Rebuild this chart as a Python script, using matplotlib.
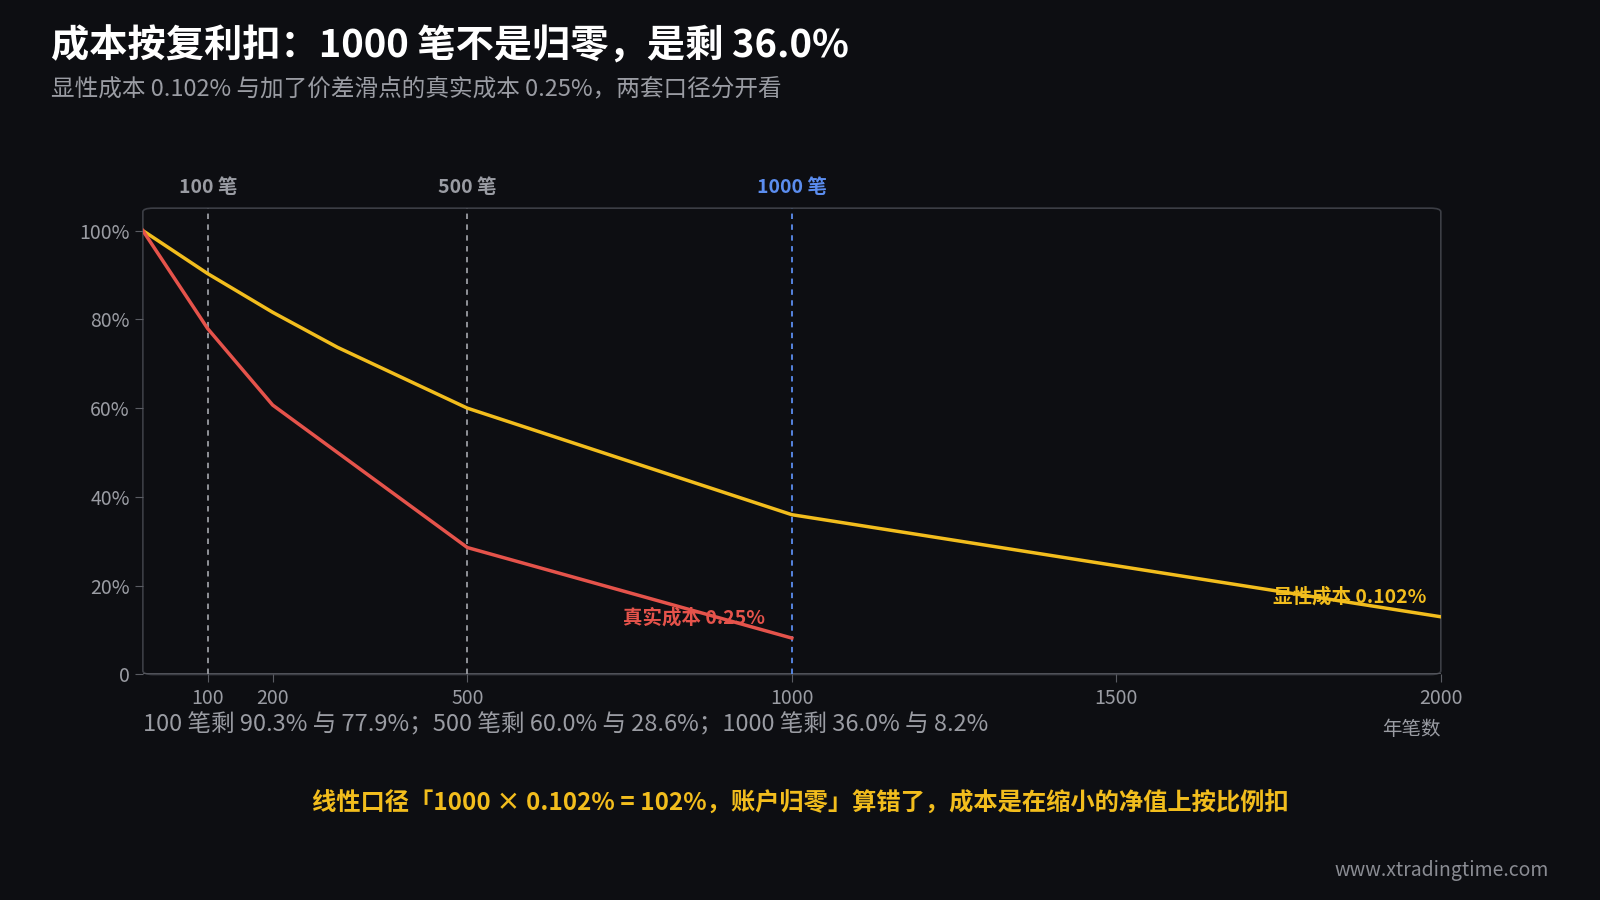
import matplotlib
matplotlib.use("Agg")
import matplotlib.pyplot as plt
from matplotlib.patches import FancyBboxPatch

plt.rcParams['font.family'] = ['Noto Sans CJK SC', 'DejaVu Sans']

BG, GRID, YEL, RED, BLUE, GREY = "#0d0e12", "#5a5c63", "#f2bd1d", "#e5534b", "#5b8def", "#9a9ca3"
W, H = 1568, 882

x_explicit = [0, 100, 200, 300, 500, 1000, 2000]
y_explicit = [1.0, 0.903, 0.816, 0.737, 0.600, 0.360, 0.130]
x_real = [0, 100, 200, 500, 1000]
y_real = [1.0, 0.779, 0.607, 0.286, 0.082]
marks = [100, 500, 1000]
mark_labels = ["100 笔", "500 笔", "1000 笔"]
mark_colors = [GREY, GREY, BLUE]

fig = plt.figure(figsize=(16, 9), dpi=100, facecolor=BG)
ax = fig.add_axes([140/W, 1-661/H, 1272/W, 457/H])
ax.set_facecolor(BG)
ax.set_xlim(0, 2000)
ax.set_ylim(0, 457/435)
for s in ax.spines.values():
    s.set_visible(False)
ax.add_patch(FancyBboxPatch((0, 0), 1, 1, boxstyle="round,pad=0,rounding_size=0.008",
                            transform=ax.transAxes, fill=False, ec="#3c3e45", lw=1.2, clip_on=False))
ax.axhline(0, color=GRID, lw=1.2)

for m, lab, c in zip(marks, mark_labels, mark_colors):
    ax.axvline(m, color=c, ls=(0, (3, 3)), lw=1.3)
    ax.text(m, 1.075, lab, color=c, ha="center", va="bottom", fontsize=14, fontweight="bold")

ax.plot(x_explicit, y_explicit, color=YEL, lw=2.5)
ax.plot(x_real, y_real, color=RED, lw=2.5)
ax.text(850, 0.128, "真实成本 0.25%", color=RED, fontsize=14, fontweight="bold", ha="center", va="center")
ax.text(1860, 0.175, "显性成本 0.102%", color=YEL, fontsize=14, fontweight="bold", ha="center", va="center")

ax.set_yticks([0, 0.2, 0.4, 0.6, 0.8, 1.0])
ax.set_yticklabels(["0", "20%", "40%", "60%", "80%", "100%"])
ax.set_xticks([100, 200, 500, 1000, 1500, 2000])
ax.tick_params(colors=GREY, labelsize=14, length=6, color=GRID)
ax.text(1.0, -0.095, "年笔数", transform=ax.transAxes, color=GREY, fontsize=14, ha="right", va="top")
ax.text(0, -0.082, "100 笔剩 90.3% 与 77.9%；500 笔剩 60.0% 与 28.6%；1000 笔剩 36.0% 与 8.2%",
        transform=ax.transAxes, color=GREY, fontsize=17, ha="left", va="top")

fig.text(50/W, 1-45/H, "成本按复利扣：1000 笔不是归零，是剩 36.0%", color="white",
         fontsize=27.5, fontweight="bold", va="center")
fig.text(50/W, 1-87/H, "显性成本 0.102% 与加了价差滑点的真实成本 0.25%，两套口径分开看",
         color=GREY, fontsize=17, va="center")
fig.text(784/W, 1-788/H, "线性口径「1000 × 0.102% = 102%，账户归零」算错了，成本是在缩小的净值上按比例扣",
         color=YEL, fontsize=17.5, fontweight="bold", ha="center", va="center")
fig.text(1518/W, 1-853/H, "www.xtradingtime.com", color="#8a8c93", fontsize=14, ha="right", va="center")

fig.savefig("out.png", facecolor=BG)
